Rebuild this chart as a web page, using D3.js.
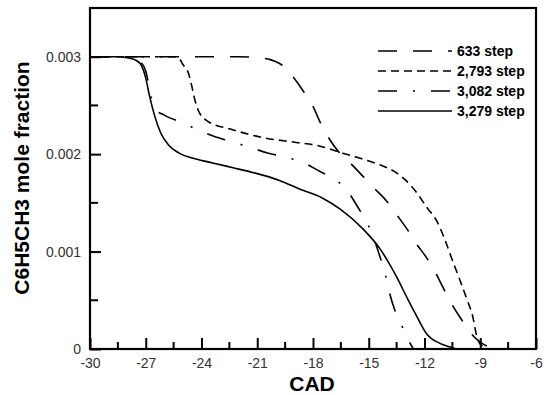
<!DOCTYPE html>
<html>
<head>
<meta charset="utf-8">
<script src="https://cdn.jsdelivr.net/npm/d3@7"></script>
<style>
  html, body { margin: 0; padding: 0; background: #fff; }
  svg { display: block; }
  text { font-family: "Liberation Sans", Arial, sans-serif; }
</style>
</head>
<body>
<svg id="chart" width="553" height="395"></svg>
<script>
// Toluene (C6H5CH3) mole fraction vs crank angle for four mechanism sizes
const xTicks = [-30, -27, -24, -21, -18, -15, -12, -9, -6];
const yTicks = [0, 0.001, 0.002, 0.003];

const cad633 = [-30, -22, -21.0, -20.3, -19.8, -19.4, -19.1, -18.5, -18.0, -17.6, -17.2, -16.6, -16.0, -15.4, -14.7, -14.0, -13.5, -12.9, -12.4, -11.9, -11.4, -11.0, -10.5, -10.0, -9.5, -9.0, -8.5, -7.8];
const val633 = [0.003, 0.003, 0.00299, 0.00297, 0.00293, 0.00287, 0.0028, 0.00264, 0.00249, 0.00232, 0.00218, 0.00202, 0.00191, 0.00179, 0.00165, 0.00151, 0.00138, 0.00122, 0.00107, 0.00094, 0.00078, 0.00063, 0.00045, 0.0003, 0.00016, 0.00007, 0.00002, 0];

const cad2793 = [-30, -25.5, -25.2, -25.0, -24.7, -24.5, -24.4, -24.1, -23.6, -22.5, -20.7, -18.9, -17.8, -16.4, -15.5, -14.4, -13.6, -13.0, -12.4, -11.9, -11.3, -10.9, -10.5, -10.1, -9.7, -9.4, -9.2, -9.0, -8.75];
const val2793 = [0.003, 0.003, 0.00298, 0.00292, 0.00283, 0.00268, 0.00259, 0.00242, 0.00233, 0.00226, 0.00217, 0.00212, 0.00209, 0.00201, 0.00196, 0.00189, 0.00182, 0.00173, 0.0016, 0.00146, 0.0013, 0.00112, 0.00091, 0.00071, 0.0005, 0.00033, 0.00014, 0.00005, 0.00002];

const cad3082 = [-30, -28.5, -27.8, -27.3, -27.0, -26.7, -26.4, -26.0, -25.0, -24.2, -23.3, -22.4, -21.4, -20.4, -19.5, -18.5, -17.6, -16.8, -16.1, -15.6, -15.1, -14.7, -14.4, -14.1, -13.9, -13.6, -13.2, -12.8, -12.6];
const val3082 = [0.003, 0.003, 0.00299, 0.00295, 0.00285, 0.00258, 0.00245, 0.0024, 0.00232, 0.00225, 0.00218, 0.00213, 0.00207, 0.00201, 0.00197, 0.00191, 0.00182, 0.00174, 0.00161, 0.00146, 0.0013, 0.00112, 0.00095, 0.00076, 0.00059, 0.0004, 0.00023, 0.00007, 0];

const cad3279 = [-30, -28.5, -28.0, -27.6, -27.3, -27.0, -26.8, -26.5, -26.2, -25.8, -25.2, -24.3, -23.4, -22.3, -21.2, -19.8, -18.7, -17.5, -16.5, -15.3, -14.4, -14.0, -13.5, -12.95, -12.4, -11.9, -11.2, -10.6, -10.3];
const val3279 = [0.003, 0.003, 0.00299, 0.00297, 0.00293, 0.00278, 0.0026, 0.00238, 0.00222, 0.0021, 0.00201, 0.00195, 0.00191, 0.00186, 0.00181, 0.00173, 0.00164, 0.00155, 0.00143, 0.00123, 0.00103, 0.00091, 0.00074, 0.00053, 0.00033, 0.00016, 0.00006, 0.00002, 0];

const seriesNames = ["633 step", "2,793 step", "3,082 step", "3,279 step"];
const seriesDash = ["19,16", "8,5", "19,16,2,16", null];

const series = [
  { name: seriesNames[0], x: cad633, y: val633, dash: seriesDash[0] },
  { name: seriesNames[1], x: cad2793, y: val2793, dash: seriesDash[1] },
  { name: seriesNames[2], x: cad3082, y: val3082, dash: seriesDash[2] },
  { name: seriesNames[3], x: cad3279, y: val3279, dash: seriesDash[3] }
];

const svg = d3.select("#chart");
const L = 90, R = 536, T = 8, B = 349;

const x = d3.scaleLinear().domain([-30, -6]).range([L, R]);
const y = d3.scaleLinear().domain([0, 0.0035]).range([B, T]);

// Curves
const line = d3.line()
  .x(d => x(d[0]))
  .y(d => y(d[1]))
  .curve(d3.curveMonotoneX);

const plot = svg.append("g");
series.forEach(s => {
  plot.append("path")
    .datum(s.x.map((v, i) => [v, s.y[i]]))
    .attr("d", line)
    .attr("fill", "none")
    .attr("stroke", "#000")
    .attr("stroke-width", 1.6)
    .attr("stroke-dasharray", s.dash);
});

// Minor ticks (inward)
const xMinor = d3.range(-28.5, -6, 3);
const yMinor = [0.0005, 0.0015, 0.0025];
const minorG = svg.append("g").attr("stroke", "#000").attr("stroke-width", 2);
xMinor.forEach(v => minorG.append("line").attr("x1", x(v)).attr("x2", x(v)).attr("y1", B).attr("y2", B - 7));
yMinor.forEach(v => minorG.append("line").attr("x1", L).attr("x2", L + 8).attr("y1", y(v)).attr("y2", y(v)));

// Axes with inward ticks; labels use a plain hyphen for negatives
const xAxis = d3.axisBottom(x).tickValues(xTicks).tickSizeInner(-11).tickSizeOuter(0).tickPadding(16).tickFormat(d => String(d));
const yAxis = d3.axisLeft(y).tickValues(yTicks).tickSizeInner(-11).tickSizeOuter(0).tickPadding(9).tickFormat(d => d === 0 ? "0" : d.toFixed(3));

const gx = svg.append("g").attr("transform", `translate(0,${B})`).call(xAxis);
const gy = svg.append("g").attr("transform", `translate(${L},0)`).call(yAxis);
[gx, gy].forEach(g => {
  g.select(".domain").remove();
  g.selectAll(".tick line").attr("stroke", "#000").attr("stroke-width", 2);
  g.selectAll(".tick text").attr("font-size", 14).attr("fill", "#333")
    .attr("font-family", "'Liberation Sans', Arial, sans-serif");
});
gx.selectAll(".tick text").attr("dy", "0.2em");

// Frame
svg.append("rect")
  .attr("x", L).attr("y", T).attr("width", R - L).attr("height", B - T)
  .attr("fill", "none").attr("stroke", "#000").attr("stroke-width", 2.2);

// Axis titles
svg.append("text")
  .attr("x", 312).attr("y", 391)
  .attr("text-anchor", "middle")
  .attr("font-size", 21).attr("font-weight", "bold")
  .text("CAD");

svg.append("text")
  .attr("transform", "translate(29,178) rotate(-90)")
  .attr("text-anchor", "middle")
  .attr("font-size", 21).attr("font-weight", "bold")
  .text("C6H5CH3 mole fraction");

// Legend
const legY = [51, 71, 91, 111];
const leg = svg.append("g");
series.forEach((s, i) => {
  leg.append("line")
    .attr("x1", 378).attr("x2", 452)
    .attr("y1", legY[i]).attr("y2", legY[i])
    .attr("stroke", "#000").attr("stroke-width", 1.6)
    .attr("stroke-dasharray", s.dash);
  leg.append("text")
    .attr("x", 457).attr("y", legY[i] + 5)
    .attr("font-size", 14).attr("font-weight", "bold")
    .text(s.name);
});
</script>
</body>
</html>
